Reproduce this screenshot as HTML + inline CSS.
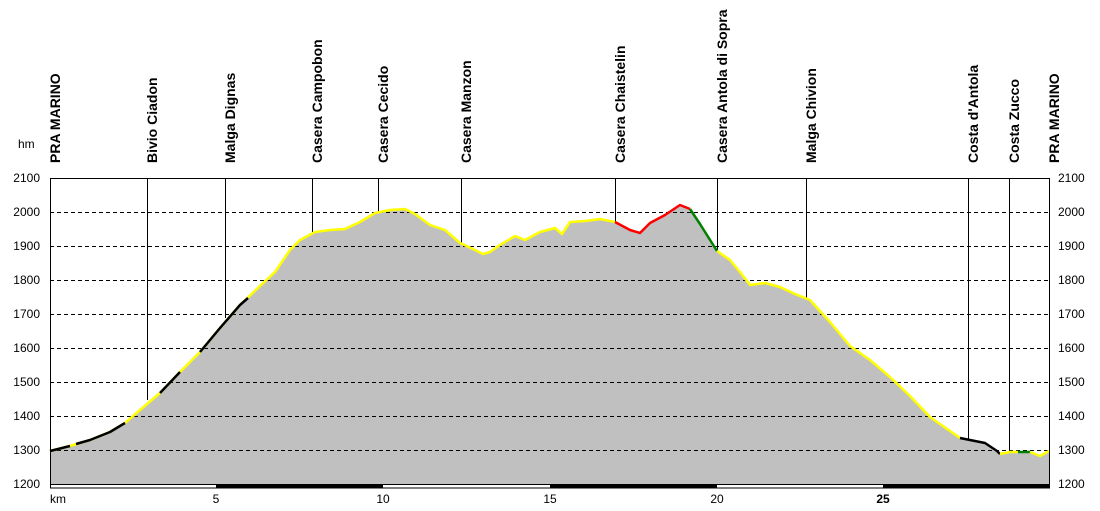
<!DOCTYPE html>
<html><head><meta charset="utf-8"><style>
html,body{margin:0;padding:0;background:#fff}
svg{display:block;font-family:"Liberation Sans",Arial,sans-serif}
.lb{font-size:14px;font-weight:bold;fill:#000}
.ax{font-size:12px;fill:#000}
</style></head><body>
<svg width="1100" height="511" viewBox="0 0 1100 511" xmlns="http://www.w3.org/2000/svg">
<rect width="1100" height="511" fill="#fff"/>
<path d="M50,451 L70,446 L90,440 L110,432 L125,423 L140,410 L160,393 L180,372 L200,352 L220,328 L240,305 L260,286 L275,272 L290,250 L300,240 L315,232 L330,230 L345,229 L360,222 L375,213 L390,210 L405,209 L415,214 L430,225 L445,230 L460,243 L475,250 L483,254 L490,252 L500,245 L515,236 L525,240 L540,232 L555,228 L562,234 L570,222 L585,221 L600,219 L615,222 L630,230 L640,233 L650,223 L665,215 L680,205 L690,209 L700,224 L717,251 L730,260 L740,272 L750,285 L765,283 L780,287 L795,294 L810,300 L830,322 L850,346 L870,360 L890,377 L910,396 L930,417 L960,438 L985,443 L997,451 L1000,454 L1010,452 L1030,452 L1040,456 L1049,451 L1049,484 L50,484 Z" fill="#c0c0c0"/>
<g stroke="#000" stroke-width="1" stroke-dasharray="4,3">
<line x1="50" y1="178.5" x2="1049" y2="178.5"/>
<line x1="50" y1="212.5" x2="1049" y2="212.5"/>
<line x1="50" y1="246.5" x2="1049" y2="246.5"/>
<line x1="50" y1="280.5" x2="1049" y2="280.5"/>
<line x1="50" y1="314.5" x2="1049" y2="314.5"/>
<line x1="50" y1="348.5" x2="1049" y2="348.5"/>
<line x1="50" y1="382.5" x2="1049" y2="382.5"/>
<line x1="50" y1="416.5" x2="1049" y2="416.5"/>
<line x1="50" y1="450.5" x2="1049" y2="450.5"/>
</g>
<g stroke="#000" stroke-width="1">
<line x1="147.5" y1="178" x2="147.5" y2="400"/>
<line x1="225.5" y1="178" x2="225.5" y2="318"/>
<line x1="312.5" y1="178" x2="312.5" y2="234"/>
<line x1="378.5" y1="178" x2="378.5" y2="212"/>
<line x1="461.5" y1="178" x2="461.5" y2="243"/>
<line x1="615.5" y1="178" x2="615.5" y2="222"/>
<line x1="717.5" y1="178" x2="717.5" y2="251"/>
<line x1="806.5" y1="178" x2="806.5" y2="298"/>
<line x1="968.5" y1="178" x2="968.5" y2="439"/>
<line x1="1009.5" y1="178" x2="1009.5" y2="452"/>
</g>
<g fill="none" stroke-width="2.5" stroke-linejoin="round">
<polyline stroke="#ffff00" points="50,451 70,446 90,440 110,432 125,423 140,410 160,393 180,372 200,352 220,328 240,305 260,286 275,272 290,250 300,240 315,232 330,230 345,229 360,222 375,213 390,210 405,209 415,214 430,225 445,230 460,243 475,250 483,254 490,252 500,245 515,236 525,240 540,232 555,228 562,234 570,222 585,221 600,219 615,222"/>
<polyline stroke="#000" points="50,451 70,446"/>
<polyline stroke="#000" points="76,444 90,440 110,432 125,423"/>
<polyline stroke="#000" points="160,393 180,372"/>
<polyline stroke="#000" points="200,352 220,328 240,305 248,298"/>
<polyline stroke="#ff0000" points="615,222 630,230 640,233 650,223 665,215 680,205 690,209"/>
<polyline stroke="#008000" points="690,209 700,224 717,251"/>
<polyline stroke="#ffff00" points="717,251 730,260 740,272 750,285 765,283 780,287 795,294 810,300 830,322 850,346 870,360 890,377 910,396 930,417 960,438"/>
<polyline stroke="#000" points="960,438 985,443 997,451 1000,454"/>
<polyline stroke="#ffff00" points="1000,454 1010,452 1018,452"/>
<polyline stroke="#008000" points="1018,452 1030,452"/>
<polyline stroke="#ffff00" points="1030,452 1040,456 1049,451"/>
</g>
<rect x="50.5" y="178.5" width="999" height="306" fill="none" stroke="#000"/>
<rect x="50.5" y="484.5" width="999" height="3.5" fill="#fff" stroke="#000"/>
<rect x="216" y="484" width="167" height="4" fill="#000"/>
<rect x="550" y="484" width="167" height="4" fill="#000"/>
<rect x="883" y="484" width="167" height="4" fill="#000"/>
<g class="ax" text-anchor="end">
<text x="40" y="182">2100</text><text x="40" y="216">2000</text><text x="40" y="250">1900</text><text x="40" y="284">1800</text><text x="40" y="318">1700</text><text x="40" y="352">1600</text><text x="40" y="386">1500</text><text x="40" y="420">1400</text><text x="40" y="454">1300</text><text x="40" y="488">1200</text>
</g>
<g class="ax" text-anchor="start">
<text x="1058" y="182">2100</text><text x="1058" y="216">2000</text><text x="1058" y="250">1900</text><text x="1058" y="284">1800</text><text x="1058" y="318">1700</text><text x="1058" y="352">1600</text><text x="1058" y="386">1500</text><text x="1058" y="420">1400</text><text x="1058" y="454">1300</text><text x="1058" y="488">1200</text>
</g>
<text class="ax" x="18" y="148">hm</text>
<g class="ax" text-anchor="middle">
<text x="58" y="503">km</text><text x="216" y="503">5</text><text x="383" y="503">10</text><text x="550" y="503">15</text><text x="717" y="503">20</text><text x="883" y="503" font-weight="bold">25</text>
</g>
<g class="lb">
<text transform="translate(60,163) rotate(-90)">PRA MARINO</text>
<text transform="translate(157,163) rotate(-90)">Bivio Ciadon</text>
<text transform="translate(235,163) rotate(-90)">Malga Dignas</text>
<text transform="translate(322,163) rotate(-90)">Casera Campobon</text>
<text transform="translate(388,163) rotate(-90)">Casera Cecido</text>
<text transform="translate(471,163) rotate(-90)">Casera Manzon</text>
<text transform="translate(625,163) rotate(-90)">Casera Chaistelin</text>
<text transform="translate(727,163) rotate(-90)">Casera Antola di Sopra</text>
<text transform="translate(816,163) rotate(-90)">Malga Chivion</text>
<text transform="translate(978,163) rotate(-90)">Costa d'Antola</text>
<text transform="translate(1019,163) rotate(-90)">Costa Zucco</text>
<text transform="translate(1059,163) rotate(-90)">PRA MARINO</text>
</g>
</svg>
</body></html>
